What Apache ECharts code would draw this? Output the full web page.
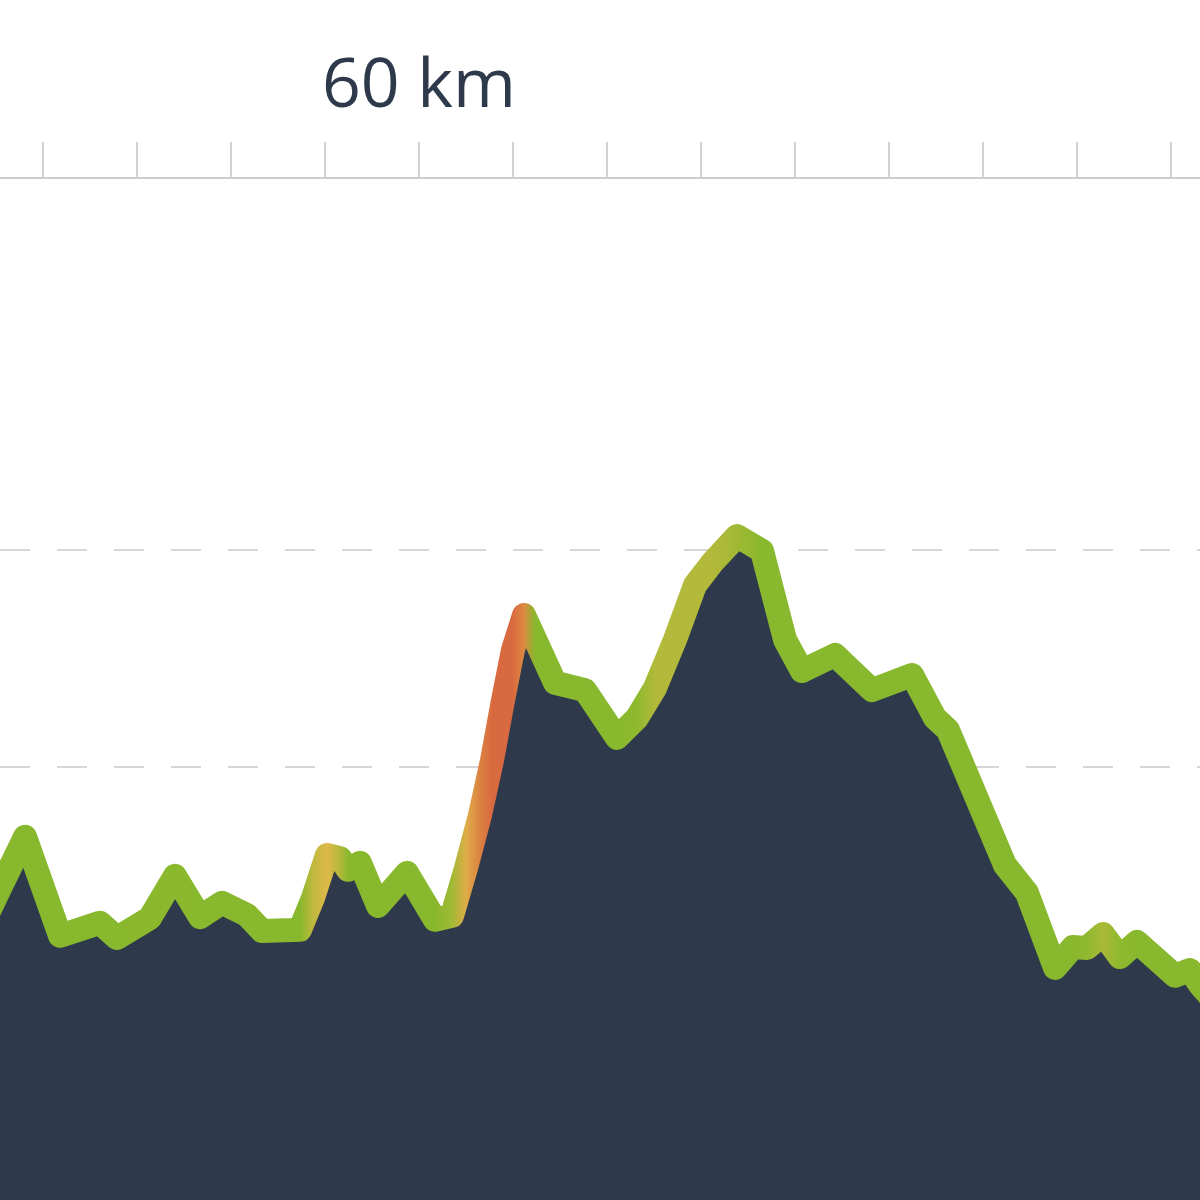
<!DOCTYPE html>
<html><head><meta charset="utf-8">
<style>html,body{margin:0;padding:0;background:#fff}#c{width:1200px;height:1200px}</style>
<script src="https://cdn.jsdelivr.net/npm/echarts@6/dist/echarts.min.js"></script>
</head><body><div id="c"></div>
<script>
// Distance along route (km)
const distanceKm = [55.383, 55.543, 55.809, 56.181, 56.606, 56.787, 57.138, 57.404, 57.670, 57.904,
  58.170, 58.330, 58.734, 58.872, 59.021, 59.160, 59.245, 59.372, 59.564, 59.872,
  60.170, 60.351, 60.500, 60.649, 60.777, 60.894, 61.000, 61.117, 61.234, 61.447, 61.766,
  62.106, 62.319, 62.511, 62.723, 62.936, 63.117, 63.383, 63.649, 63.894, 64.074,
  64.426, 64.819, 65.245, 65.489, 65.628, 66.234, 66.468, 66.766, 66.957, 67.106,
  67.277, 67.457, 67.638, 68.043, 68.202, 68.309, 68.468];
// Elevation (m)
const elevationM = [214.8, 222.1, 233.9, 211.1, 214.1, 210.6, 215.2, 224.9, 215.4, 218.7,
  215.9, 212.2, 212.5, 219.8, 229.7, 229.0, 226.3, 227.9, 218.0, 225.6,
  214.8, 215.7, 226.7, 238.9, 251.6, 265.4, 277.0, 285.0, 279.5, 269.4, 267.7,
  256.7, 261.3, 268.2, 279.3, 291.9, 297.0, 303.2, 299.8, 279.3, 272.1,
  275.8, 267.7, 271.2, 261.3, 258.5, 227.4, 221.0, 203.7, 208.5, 208.3,
  211.5, 206.2, 209.7, 201.9, 203.2, 199.8, 195.9];
// Gradient (%) used for line colouring
const gradePct = [1, 1, 1, 1, 1, 1, 2, 2, 1, 1,
  1, 1, 1, 5.5, 7, 5, 2, 1, 1, 1,
  1, 4, 7.5, 9.5, 11, 11, 11, 9, 1, 1, 1,
  1, 3, 5, 5, 5, 5, 4, 1, 1, 1,
  1, 1, 1, 1, 1, 1, 1, 1, 1, 3,
  4.5, 3, 1, 1, 1, 1, 1];
// Labelled ticks (km)
const tickLabelKm = [60];

const gradeScale = [[0,[132,184,44]],[3,[143,185,47]],[5,[179,185,58]],[7,[224,184,74]],[9,[220,138,66]],[11,[217,106,64]]];
function rgb(c){return 'rgb('+c.map(v=>Math.round(v)).join(',')+')';}
function gradeColor(g){
  if (g <= gradeScale[0][0]) return rgb(gradeScale[0][1]);
  for (let i=1;i<gradeScale.length;i++){
    if (g <= gradeScale[i][0]){
      const a=gradeScale[i-1], b=gradeScale[i];
      const t=(g-a[0])/(b[0]-a[0]);
      return rgb(a[1].map((v,k)=>v+(b[1][k]-v)*t));
    }
  }
  return rgb(gradeScale[gradeScale.length-1][1]);
}

const chart = echarts.init(document.getElementById('c'), null, {renderer:'canvas'});
const data = distanceKm.map((d,i)=>[d, elevationM[i]]);
chart.setOption({
  animation:false,
  backgroundColor:'#ffffff',
  grid:{left:-51, right:-65, top:398, height:803, containLabel:false, outerBoundsMode:'none'},
  xAxis:{type:'value', position:'top', min:55, max:69, interval:1, offset:220,
    axisLine:{show:true, lineStyle:{color:'#cccccc', width:2}},
    axisTick:{show:true, length:36, lineStyle:{color:'#d2d2d2', width:2}},
    axisLabel:{show:true, margin:56, fontSize:68, color:'#2e3a4b', fontFamily:'Open Sans',
      formatter: v => tickLabelKm.includes(v) ? v + ' km' : ''},
    splitLine:{show:false}},
  yAxis:{type:'value', min:150, max:335, interval:50,
    axisLine:{show:false}, axisTick:{show:false}, axisLabel:{show:false},
    splitLine:{show:true, showMinLine:false, showMaxLine:false,
      lineStyle:{color:'#d6d6d6', width:2, type:[30,27], dashOffset:6}}},
  series:[{type:'line', data, symbol:'none', smooth:false,
    lineStyle:{width:24, color:'#84b82c', join:'round', cap:'round'},
    areaStyle:{color:'#2e3a4b', opacity:1}}]
});
const px = data.map(p => chart.convertToPixel({gridIndex:0}, p)[0]);
const x0 = px[0], x1 = px[px.length-1];
const stops = px.map((x,i)=>({offset: Math.min(1, Math.max(0,(x-x0)/(x1-x0))), color: gradeColor(gradePct[i])}));
chart.setOption({series:[{lineStyle:{color:{type:'linear', x:x0, y:0, x2:x1, y2:0, global:true, colorStops:stops}}}]});
</script></body></html>
